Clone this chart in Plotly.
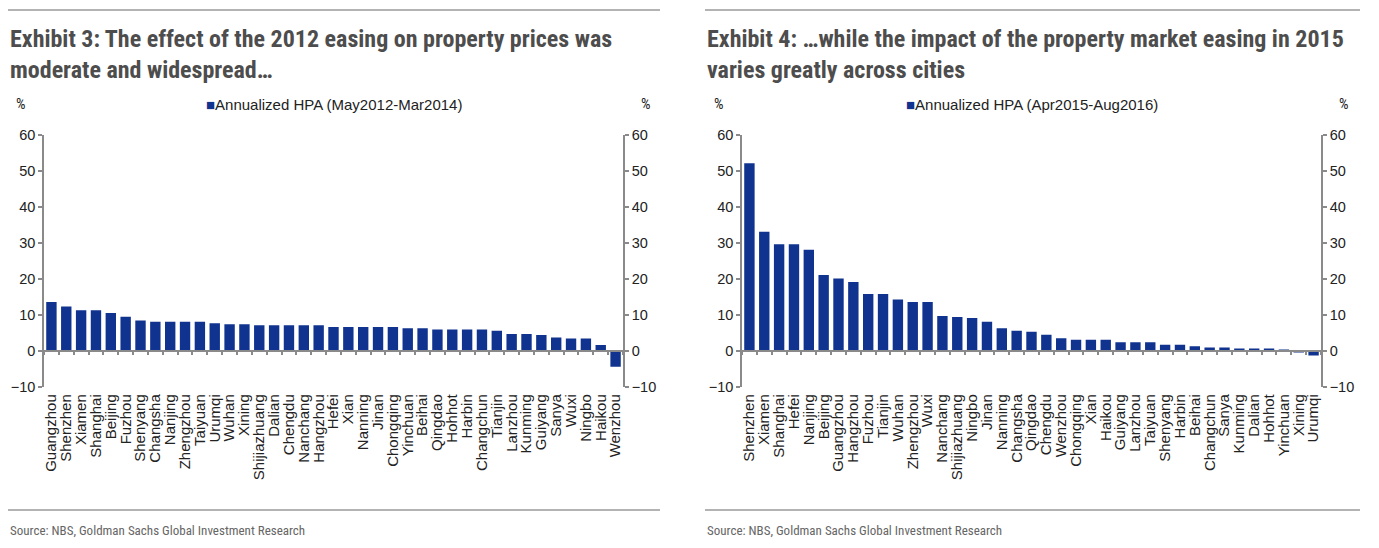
import plotly.graph_objects as go

# Exhibit 3 data: annualized HPA May2012-Mar2014 (%)
cities_2012 = ["Guangzhou", "Shenzhen", "Xiamen", "Shanghai", "Beijing", "Fuzhou", "Shenyang",
               "Changsha", "Nanjing", "Zhengzhou", "Taiyuan", "Urumqi", "Wuhan", "Xining",
               "Shijiazhuang", "Dalian", "Chengdu", "Nanchang", "Hangzhou", "Hefei", "Xian",
               "Nanning", "Jinan", "Chongqing", "Yinchuan", "Beihai", "Qingdao", "Hohhot",
               "Harbin", "Changchun", "Tianjin", "Lanzhou", "Kunming", "Guiyang", "Sanya",
               "Wuxi", "Ningbo", "Haikou", "Wenzhou"]
hpa_2012 = [13.5, 12.2, 11.2, 11.2, 10.4, 9.4, 8.3,
            8.0, 8.0, 8.0, 8.0, 7.6, 7.3, 7.3,
            7.0, 7.0, 7.0, 7.0, 7.0, 6.5, 6.5,
            6.5, 6.5, 6.5, 6.2, 6.2, 5.8, 5.8,
            5.8, 5.8, 5.5, 4.6, 4.6, 4.3, 3.6,
            3.3, 3.3, 1.5, -4.5]

# Exhibit 4 data: annualized HPA Apr2015-Aug2016 (%)
cities_2015 = ["Shenzhen", "Xiamen", "Shanghai", "Hefei", "Nanjing", "Beijing", "Guangzhou",
               "Hangzhou", "Fuzhou", "Tianjin", "Wuhan", "Zhengzhou", "Wuxi", "Nanchang",
               "Shijiazhuang", "Ningbo", "Jinan", "Nanning", "Changsha", "Qingdao", "Chengdu",
               "Wenzhou", "Chongqing", "Xian", "Haikou", "Guiyang", "Lanzhou", "Taiyuan",
               "Shenyang", "Harbin", "Beihai", "Changchun", "Sanya", "Kunming", "Dalian",
               "Hohhot", "Yinchuan", "Xining", "Urumqi"]
hpa_2015 = [52.0, 33.0, 29.5, 29.5, 28.0, 21.0, 20.0,
            19.0, 15.7, 15.7, 14.2, 13.5, 13.5, 9.6,
            9.3, 9.0, 8.0, 6.2, 5.5, 5.2, 4.4,
            3.4, 3.0, 3.0, 3.0, 2.3, 2.3, 2.3,
            1.6, 1.6, 1.2, 0.8, 0.8, 0.5, 0.5,
            0.5, 0.1, -0.3, -1.4]

y_ticks = [-10, 0, 10, 20, 30, 40, 50, 60]

# the page body keeps its default 8px margin, so the figure is drawn 8px in
OFF = 8
W, H = 1379 - OFF, 548 - OFF
BAR = "#10338F"
AXIS = "#8a8a8a"
TITLE_FONT = "Liberation Sans Narrow, Roboto Condensed, DejaVu Sans Condensed, Arial Narrow, sans-serif"
BODY_FONT = "Liberation Sans, Arial, sans-serif"


def px_x(v):
    return (v - OFF) / W


def px_y(v):
    return 1 - (v - OFF) / H


# plot areas in page pixels
panels = [
    dict(x0=44, x1=623, cats=cities_2012, vals=hpa_2012, rule=(8, 660),
         title="Exhibit 3: The effect of the 2012 easing on property prices was<br>moderate and widespread…",
         legend="Annualized HPA (May2012-Mar2014)"),
    dict(x0=742, x1=1321, cats=cities_2015, vals=hpa_2015, rule=(705, 1360),
         title="Exhibit 4: …while the impact of the property market easing in 2015<br>varies greatly across cities",
         legend="Annualized HPA (Apr2015-Aug2016)"),
]
top, bottom = 134.5, 386.5
ymin, ymax = -10, 60
zero_pos = px_y(bottom) + (px_y(top) - px_y(bottom)) * (0 - ymin) / (ymax - ymin)

fig = go.Figure()
layout = dict(width=W, height=H, margin=dict(l=0, r=0, t=0, b=0, pad=0, autoexpand=False),
              template="none", paper_bgcolor="white", plot_bgcolor="white", showlegend=False,
              bargap=0.3, font=dict(family=BODY_FONT, color="#222222"))
shapes, annotations = [], []

for i, p in enumerate(panels):
    n = "" if i == 0 else str(i + 1)
    xa = "x" + n
    ya = "y" + (str(2 * i + 1) if i else "")
    ya2 = "y" + str(2 * i + 2)
    fig.add_trace(go.Bar(x=p["cats"], y=p["vals"], marker=dict(color=BAR, line=dict(width=0)),
                         xaxis=xa, yaxis=ya, name=p["legend"]))
    # invisible copy so the right-hand axis is drawn
    fig.add_trace(go.Scatter(x=p["cats"], y=p["vals"], mode="markers", marker=dict(opacity=0),
                             hoverinfo="skip", xaxis=xa, yaxis=ya2))
    dom_x = [px_x(p["x0"]), px_x(p["x1"])]
    dom_y = [px_y(bottom), px_y(top)]
    common_y = dict(domain=dom_y, anchor=xa, range=[ymin, ymax], tickvals=y_ticks,
                    showline=True, linecolor=AXIS, linewidth=1.5,
                    ticks="outside", ticklen=4, tickcolor=AXIS, tickwidth=1.5,
                    tickfont=dict(size=14.5, color="#222222"),
                    showgrid=False, zeroline=False, automargin=False)
    layout["xaxis" + n] = dict(domain=dom_x, anchor="free", position=zero_pos, type="category",
                               range=[-0.5, len(p["cats"]) - 0.5],
                               tickmode="array", tickvals=p["cats"], ticktext=p["cats"],
                               showline=True, linecolor=AXIS, linewidth=1.5,
                               ticks="outside", ticklen=4, tickcolor=AXIS, tickwidth=1.5,
                               tickson="boundaries", tickangle=-90, ticklabelstandoff=37,
                               tickfont=dict(size=15, color="#222222"),
                               showgrid=False, zeroline=False, automargin=False)
    layout["yaxis" + (str(2 * i + 1) if i else "")] = dict(common_y)
    layout["yaxis" + str(2 * i + 2)] = dict(common_y, overlaying=ya, side="right")

    # rules above and below
    for yy in (10, 510):
        shapes.append(dict(type="line", xref="paper", yref="paper",
                           x0=px_x(p["rule"][0]), x1=px_x(p["rule"][1]),
                           y0=px_y(yy), y1=px_y(yy), line=dict(color="#9a9a9a", width=1.5)))
    # title
    annotations.append(dict(text="<b>" + p["title"] + "</b>", xref="paper", yref="paper",
                            x=px_x(p["rule"][0]), y=px_y(23), xanchor="left", yanchor="top",
                            align="left", showarrow=False,
                            font=dict(family=TITLE_FONT, size=24, color="#4d4d4d")))
    # units
    for xx, anc in ((p["x0"] - 30, "left"), (p["x1"] + 30, "right")):
        annotations.append(dict(text="%", xref="paper", yref="paper", x=px_x(xx), y=px_y(104),
                                xanchor=anc, yanchor="middle", showarrow=False,
                                font=dict(family=TITLE_FONT, size=15, color="#222222")))
    # legend entry
    mid = (p["x0"] + p["x1"]) / 2
    annotations.append(dict(text="<span style='color:%s'>■</span>%s" % (BAR, p["legend"]),
                            xref="paper", yref="paper", x=px_x(mid), y=px_y(105),
                            xanchor="center", yanchor="middle", showarrow=False,
                            font=dict(size=15, color="#222222")))
    # source
    annotations.append(dict(text="Source: NBS, Goldman Sachs Global Investment Research",
                            xref="paper", yref="paper", x=px_x(p["rule"][0]), y=px_y(530),
                            xanchor="left", yanchor="middle", showarrow=False,
                            font=dict(family=TITLE_FONT, size=13, color="#666666")))

layout["shapes"] = shapes
layout["annotations"] = annotations
fig.update_layout(**layout)

fig.write_html("out.html")
